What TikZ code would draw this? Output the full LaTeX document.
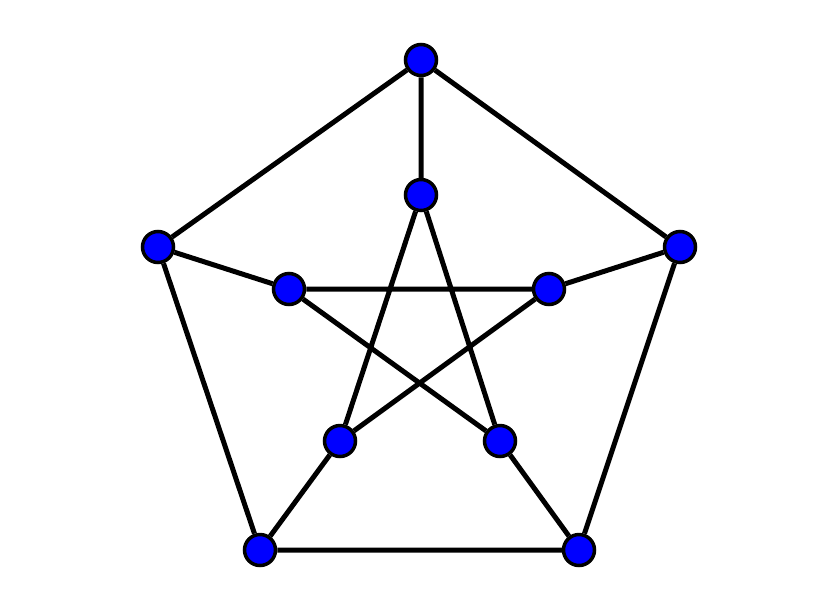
\documentclass[tikz,border=0pt]{standalone}
\begin{document}
\begin{tikzpicture}[x=1pt,y=-1pt,
  vert/.style={circle,draw=black,line width=3.5pt,fill=blue,minimum size=31pt,inner sep=0pt},
  edge/.style={line width=5pt,black}]
\useasboundingbox[fill=white] (0,0) rectangle (840,611);
\node[vert] (o1) at (421,60) {};
\node[vert] (o2) at (158,247) {};
\node[vert] (o3) at (680,247) {};
\node[vert] (o4) at (260,550) {};
\node[vert] (o5) at (579,550) {};
\node[vert] (i1) at (421,195) {};
\node[vert] (i2) at (289,289) {};
\node[vert] (i3) at (549,289) {};
\node[vert] (i4) at (340,441) {};
\node[vert] (i5) at (500,441) {};
\draw[edge] (o1) -- (o2) (o2) -- (o4) (o4) -- (o5) (o5) -- (o3) (o3) -- (o1);
\draw[edge] (o1) -- (i1) (o2) -- (i2) (o3) -- (i3) (o4) -- (i4) (o5) -- (i5);
\draw[edge] (i1) -- (i4) (i4) -- (i3) (i3) -- (i2) (i2) -- (i5) (i5) -- (i1);
\end{tikzpicture}
\end{document}
